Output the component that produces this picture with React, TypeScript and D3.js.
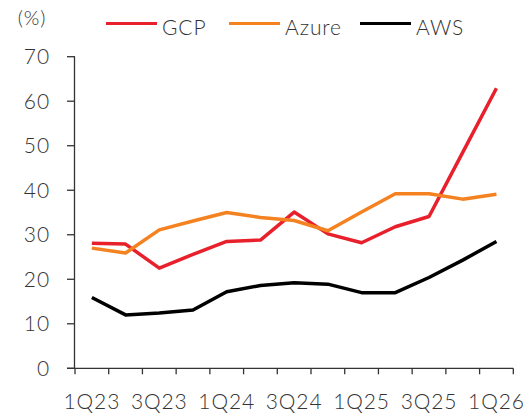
import React from "react";
import * as d3 from "d3";

const quarters = ["1Q23","2Q23","3Q23","4Q23","1Q24","2Q24","3Q24","4Q24","1Q25","2Q25","3Q25","4Q25","1Q26"];
const gcp = [28.1, 27.9, 22.5, 25.6, 28.5, 28.8, 35.1, 30.2, 28.2, 31.8, 34.1, 48.5, 62.9];
const azure = [27.0, 25.9, 31.1, 33.1, 35.0, 33.9, 33.2, 30.9, 35.1, 39.2, 39.2, 38.0, 39.1];
const aws = [15.9, 12.0, 12.4, 13.1, 17.2, 18.6, 19.2, 18.9, 17.0, 17.0, 20.4, 24.3, 28.5];
const yTicks = [0, 10, 20, 30, 40, 50, 60, 70];
const xLabels = ["1Q23","3Q23","1Q24","3Q24","1Q25","3Q25","1Q26"];

const series = [
  { name: "GCP", values: gcp, color: "#E8202C" },
  { name: "Azure", values: azure, color: "#F58220" },
  { name: "AWS", values: aws, color: "#000000" },
];

const W = 530, H = 416;
const left = 75, right = 513.3, top = 56.7, bottom = 368.3;
const font = "Lato, 'Open Sans', sans-serif";
const textColor = "#333";
const fw = 300;
const ls = 0.9;

export default function App() {
  const x = d3.scaleBand<string>().domain(quarters).range([left, right]).padding(0);
  const y = d3.scaleLinear().domain([0, 70]).range([bottom, top]);
  const cx = (q: string) => (x(q) as number) + x.bandwidth() / 2;
  const line = d3.line<number>()
    .x((_, i) => cx(quarters[i]))
    .y((d) => y(d));
  const tickXs = quarters.map((q) => x(q) as number).concat([right]);
  const legendPos = [106, 229, 360];

  return (
    <svg width={W} height={H} style={{ position: "absolute", left: 0, top: 0, background: "#fff" }}>
      <text x={32} y={25} textAnchor="middle" fontFamily={font} fontWeight={fw} fontSize={20} letterSpacing={ls} fill={textColor}>(%)</text>
      {series.map((s, i) => (
        <g key={s.name}>
          <line x1={legendPos[i]} x2={legendPos[i] + 51} y1={23.5} y2={23.5} stroke={s.color} strokeWidth={3} />
          <text x={legendPos[i] + 56} y={35} fontFamily={font} fontWeight={fw} fontSize={21} letterSpacing={ls} fill={textColor}>{s.name}</text>
        </g>
      ))}
      {/* y axis */}
      <line x1={left - 0.5} x2={left - 0.5} y1={top} y2={bottom} stroke={textColor} strokeWidth={1.3} />
      {yTicks.map((t) => (
        <g key={t}>
          <line x1={67} x2={left} y1={y(t)} y2={y(t)} stroke={textColor} strokeWidth={1.3} />
          <text x={50} y={y(t)} dy="0.36em" textAnchor="end" fontFamily={font} fontWeight={fw} fontSize={21} letterSpacing={ls} fill={textColor}>{t}</text>
        </g>
      ))}
      {/* x axis */}
      <line x1={67} x2={right} y1={bottom} y2={bottom} stroke={textColor} strokeWidth={1.3} />
      {tickXs.map((tx, i) => (
        <line key={i} x1={tx} x2={tx} y1={bottom} y2={bottom + 6} stroke={textColor} strokeWidth={1.3} />
      ))}
      {xLabels.map((l) => (
        <text key={l} x={cx(l)} y={409} textAnchor="middle" fontFamily={font} fontWeight={fw} fontSize={21} letterSpacing={ls} fill={textColor}>{l}</text>
      ))}
      {series.map((s) => (
        <path key={s.name} d={line(s.values) as string} fill="none" stroke={s.color} strokeWidth={3.5} strokeLinejoin="round" />
      ))}
    </svg>
  );
}
